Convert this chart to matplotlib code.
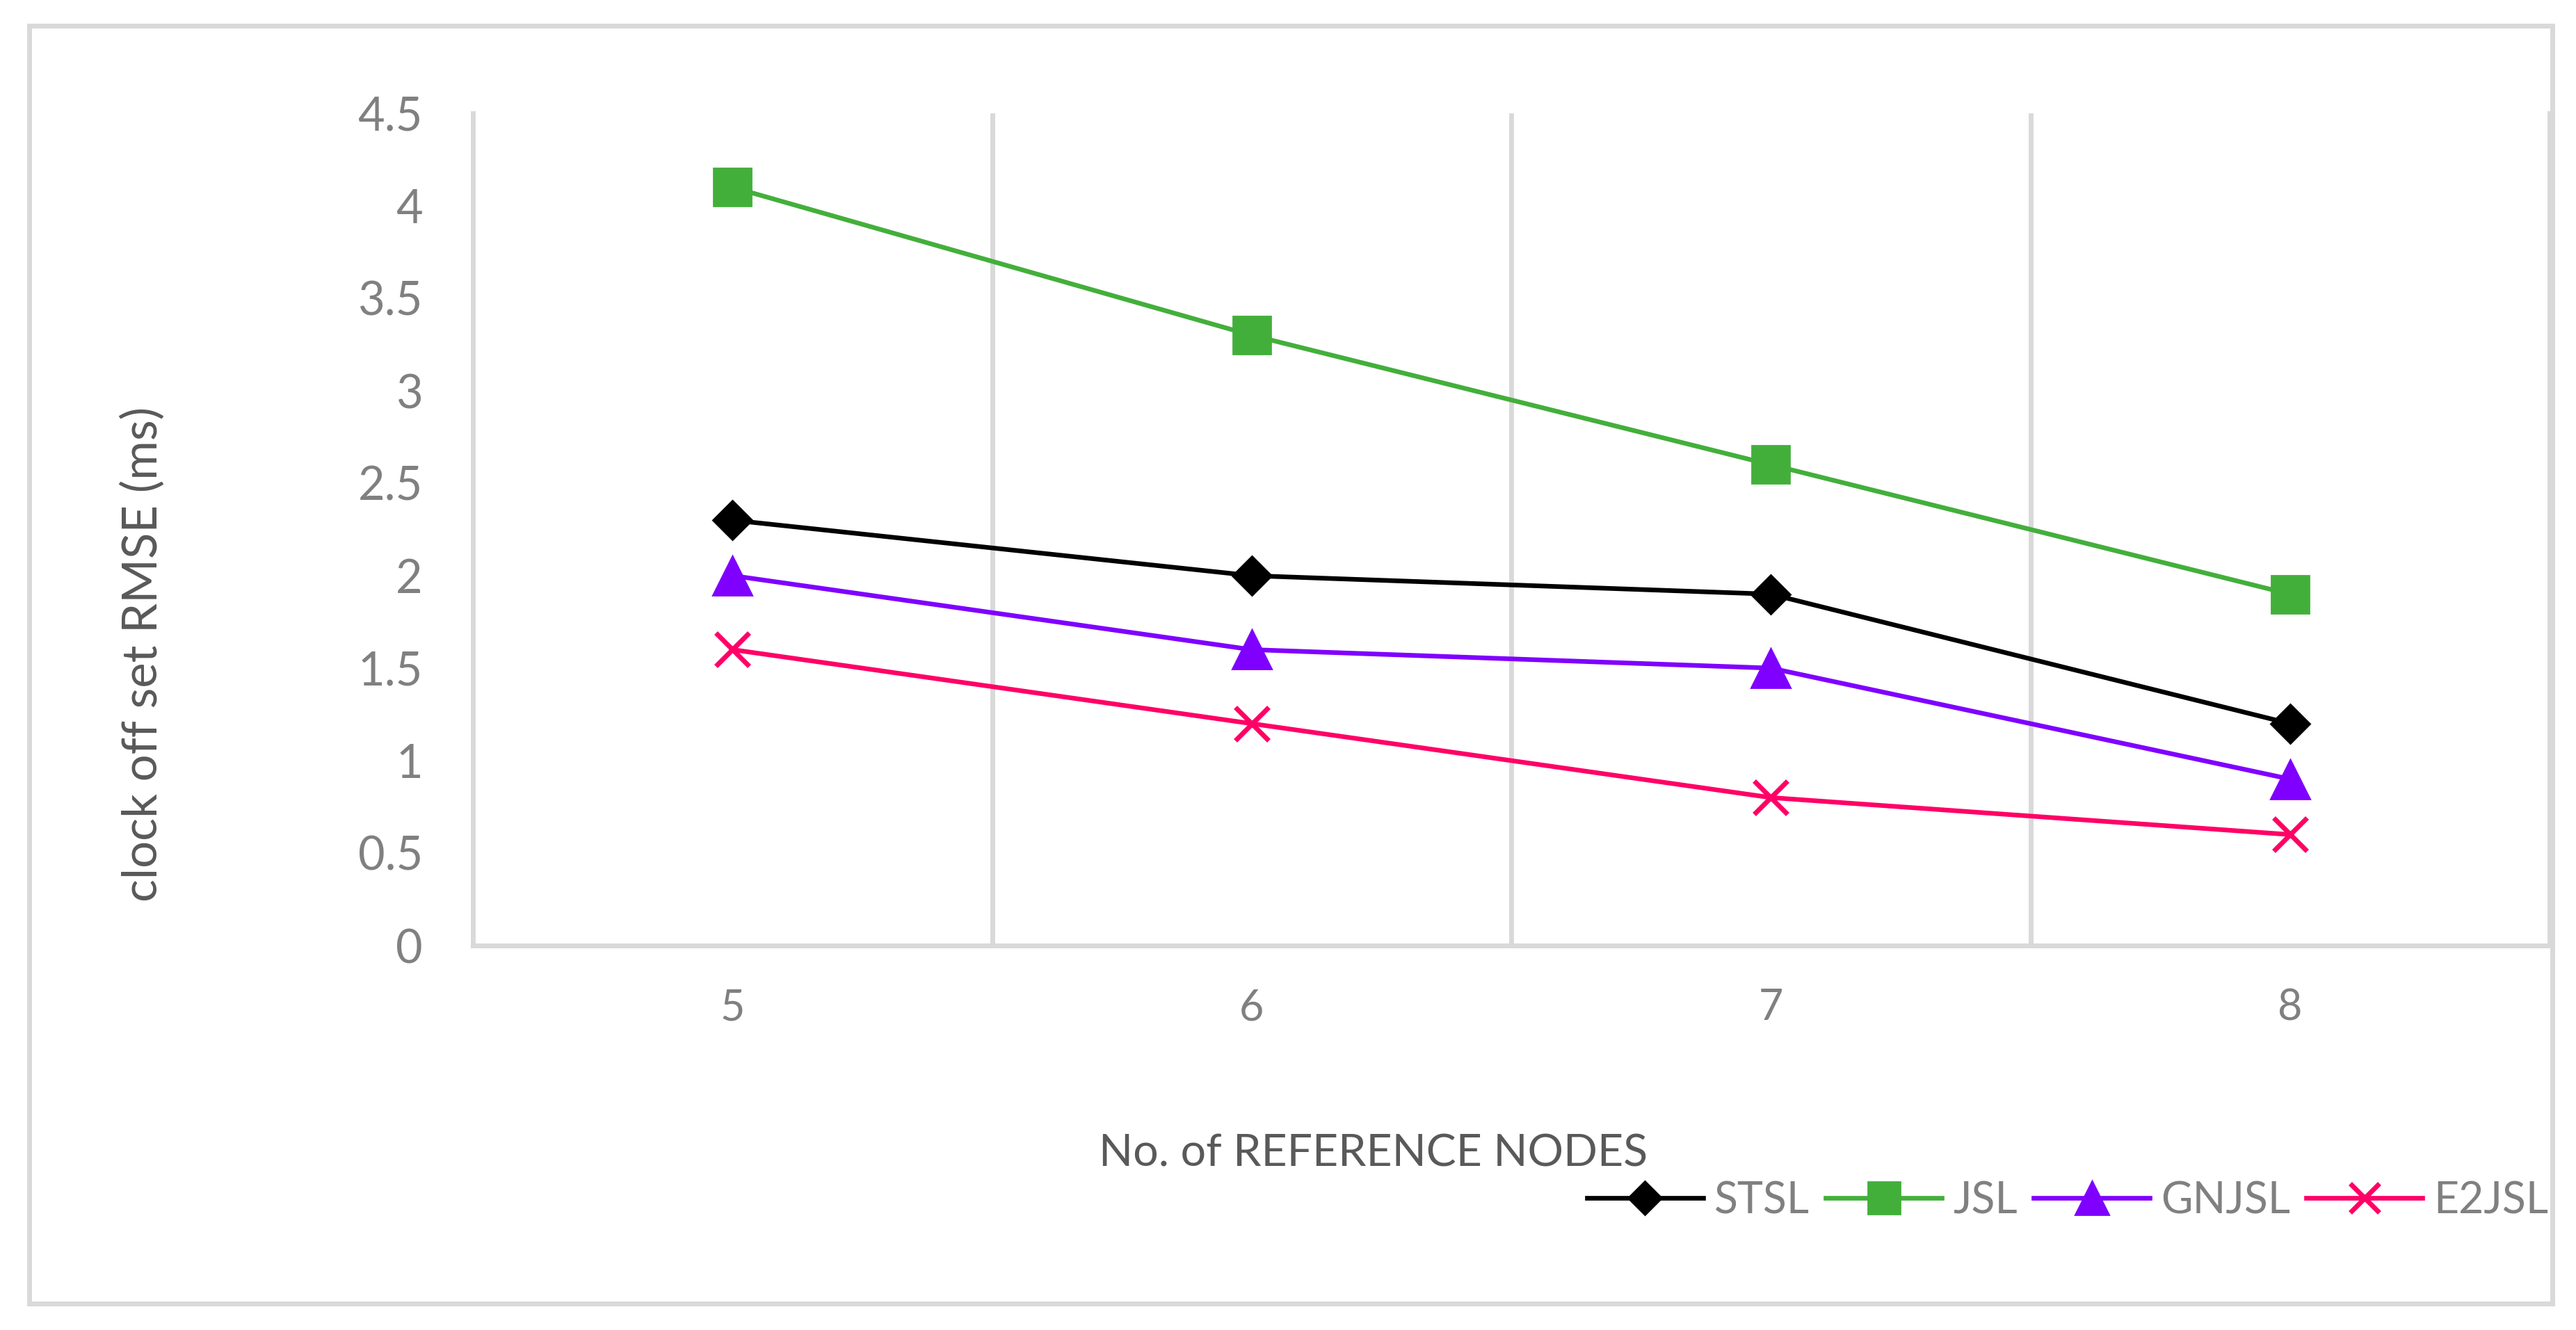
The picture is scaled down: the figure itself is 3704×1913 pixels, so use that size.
import matplotlib
matplotlib.use("Agg")
import matplotlib.pyplot as plt
from matplotlib.patches import Rectangle

# ---- data ----
categories = ["5", "6", "7", "8"]
stsl = [2.3, 2.0, 1.9, 1.2]
jsl = [4.1, 3.3, 2.6, 1.9]
gnjsl = [2.0, 1.6, 1.5, 0.9]
e2jsl = [1.6, 1.2, 0.8, 0.6]
series_names = ["STSL", "JSL", "GNJSL", "E2JSL"]
y_ticks = [0, 0.5, 1, 1.5, 2, 2.5, 3, 3.5, 4, 4.5]
y_tick_labels = ["0", "0.5", "1", "1.5", "2", "2.5", "3", "3.5", "4", "4.5"]

plt.rcParams['font.family'] = ['Lato', 'DejaVu Sans']

W, H, DPI = 3704, 1913, 200
fig = plt.figure(figsize=(W / DPI, H / DPI), dpi=DPI)
fig.patch.set_facecolor("white")

# outer chart border
fig.patches.append(Rectangle((42 / W, 1 - 1875 / H), 3628 / W, 1838 / H,
                             transform=fig.transFigure, fill=False,
                             edgecolor="#D9D9D9", linewidth=2.5, zorder=0))

left, right, top, bottom = 680, 3666, 163, 1360
ax = fig.add_axes([left / W, 1 - bottom / H, (right - left) / W, (bottom - top) / H])

x = list(range(len(categories)))
grid_c = "#D9D9D9"
ax.spines["top"].set_visible(False)
for s in ["left", "right", "bottom"]:
    ax.spines[s].set_color(grid_c)
    ax.spines[s].set_linewidth(2.5)
for xv in [0.5, 1.5, 2.5]:
    ax.axvline(xv, color=grid_c, linewidth=2.5, zorder=1)

lw = 2.4
ax.plot(x, stsl, color="black", lw=lw, marker="D", ms=14.5, mec="black", mew=1,
        label=series_names[0], zorder=3)
ax.plot(x, jsl, color="#43AF3B", lw=lw, marker="s", ms=19.5, mec="#43AF3B", mew=1,
        label=series_names[1], zorder=3)
ax.plot(x, gnjsl, color="#7F00FF", lw=lw, marker="^", ms=20, mec="#7F00FF", mew=1,
        label=series_names[2], zorder=3)
ax.plot(x, e2jsl, color="#FF0066", lw=lw, marker="x", ms=17.5, mec="#FF0066", mew=2.5,
        label=series_names[3], zorder=3)

ax.set_xlim(-0.5, len(categories) - 0.5)
ax.set_ylim(0, 4.5)
ax.set_xticks(x)
ax.set_xticklabels(categories)
ax.set_yticks(y_ticks)
ax.set_yticklabels(y_tick_labels)
ax.tick_params(axis="both", length=0, colors="#808080")
ax.tick_params(axis="y", labelsize=24, pad=26)
ax.tick_params(axis="x", labelsize=22, pad=22)

fig.text(205 / W, 1 - 941 / H, "clock off set RMSE (ms)", rotation=90,
         ha="center", va="center", fontsize=24.8, color="#595959")
fig.text(1975 / W, 1 - 1678 / H, "No. of REFERENCE NODES", ha="center",
         va="baseline", fontsize=23.2, color="#595959")

leg = fig.legend(loc="center left", bbox_to_anchor=(2282 / W, 1 - 1727 / H),
                 ncol=4, frameon=False, fontsize=22.5, handlelength=2.67,
                 handletextpad=0.26, columnspacing=0.37, borderpad=0,
                 borderaxespad=0, markerscale=0.86)
for t in leg.get_texts():
    t.set_color("#808080")

fig.savefig("out.png", dpi=DPI, facecolor="white")
